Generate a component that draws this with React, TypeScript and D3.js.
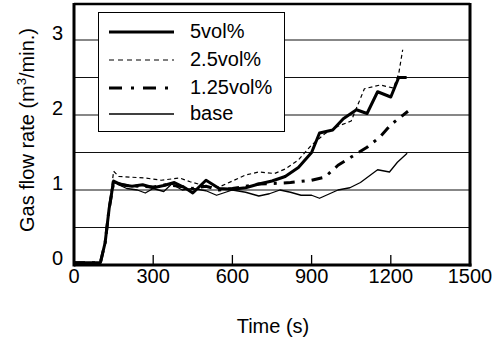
import React, { useEffect, useRef } from "react";
import * as d3 from "d3";

const X_TICKS = [0, 300, 600, 900, 1200, 1500];
const Y_TICKS = [0, 1, 2, 3];
const GRID_VALUES = [0.5, 1, 1.5, 2, 2.5, 3];

const T_5VOL = [0, 100, 118, 133, 150, 180, 220, 260, 300, 340, 380, 420, 450, 500, 550, 600, 650, 700, 750, 800, 850, 900, 930, 980, 1020, 1070, 1110, 1150, 1200, 1230, 1260];
const V_5VOL = [0.03, 0.03, 0.3, 0.75, 1.12, 1.07, 1.05, 1.07, 1.03, 1.06, 1.1, 1.03, 0.96, 1.13, 1.02, 1.01, 1.03, 1.08, 1.12, 1.18, 1.3, 1.5, 1.76, 1.8, 1.95, 2.07, 2.02, 2.31, 2.24, 2.5, 2.5];

const T_2_5VOL = [0, 100, 118, 133, 150, 170, 220, 270, 330, 400, 440, 500, 550, 600, 650, 700, 760, 800, 850, 900, 950, 1000, 1050, 1100, 1160, 1210, 1230, 1245];
const V_2_5VOL = [0.03, 0.03, 0.3, 0.75, 1.25, 1.18, 1.17, 1.16, 1.13, 1.16, 1.11, 1.05, 1.04, 1.12, 1.2, 1.24, 1.22, 1.28, 1.4, 1.6, 1.75, 1.85, 1.92, 2.35, 2.4, 2.36, 2.55, 2.87];

const T_1_25VOL = [0, 100, 118, 133, 150, 200, 250, 300, 350, 400, 450, 500, 550, 600, 650, 700, 770, 820, 900, 950, 1000, 1050, 1110, 1160, 1200, 1265];
const V_1_25VOL = [0.03, 0.03, 0.3, 0.75, 1.1, 1.06, 1.05, 1.04, 1.07, 1.05, 1.02, 1.05, 1.0, 1.02, 1.05, 1.08, 1.09, 1.1, 1.13, 1.17, 1.33, 1.44, 1.57, 1.71, 1.87, 2.05];

const T_BASE = [0, 100, 118, 133, 150, 200, 240, 270, 300, 340, 370, 410, 450, 500, 540, 600, 650, 700, 740, 780, 820, 860, 900, 930, 1000, 1045, 1085, 1150, 1195, 1225, 1262];
const V_BASE = [0.03, 0.03, 0.3, 0.75, 1.1, 1.02, 1.0, 0.96, 1.02, 0.98, 1.08, 1.0, 1.02, 0.99, 0.93, 1.0, 0.97, 0.92, 0.95, 1.0, 0.97, 0.93, 0.93, 0.89, 1.0, 1.03, 1.1, 1.27, 1.24, 1.37, 1.49];

const SERIES = [
    { name: "5vol%", t: T_5VOL, v: V_5VOL, width: 3, dash: null, legendDash: null },
    { name: "2.5vol%", t: T_2_5VOL, v: V_2_5VOL, width: 1.2, dash: "4,3", legendDash: "5,4" },
    { name: "1.25vol%", t: T_1_25VOL, v: V_1_25VOL, width: 3, dash: "11,7,3,7", legendDash: "13,9,3,9" },
    { name: "base", t: T_BASE, v: V_BASE, width: 1.3, dash: null, legendDash: null },
];

const FONT = "'Liberation Sans', Arial, sans-serif";

const App = () => {
    const ref = useRef<HTMLDivElement>(null);

    useEffect(() => {
        const left = 74, right = 470, top = 4, bottom = 265;

        const svg = d3
            .select(ref.current)
            .html("")
            .append("svg")
            .attr("width", 500)
            .attr("height", 341)
            .style("position", "absolute")
            .style("left", 0)
            .style("top", 0)
            .style("background", "white");

        const x = d3.scaleLinear().domain([0, 1500]).range([left, right]);
        const y = d3.scaleLinear().domain([0, 3.48]).range([bottom, top]);

        // gridlines
        svg.append("g")
            .selectAll("line")
            .data(GRID_VALUES)
            .join("line")
            .attr("x1", left)
            .attr("x2", right)
            .attr("y1", (d) => y(d))
            .attr("y2", (d) => y(d))
            .attr("stroke", "#111")
            .attr("stroke-width", 1.2);

        // x tick marks
        svg.append("g")
            .selectAll("line")
            .data(X_TICKS.slice(1, -1))
            .join("line")
            .attr("x1", (d) => x(d))
            .attr("x2", (d) => x(d))
            .attr("y1", bottom)
            .attr("y2", bottom - 10)
            .attr("stroke", "black")
            .attr("stroke-width", 1.3);

        // legend box (drawn under the curves)
        const legend = svg.append("g");
        legend.append("rect")
            .attr("x", 98.5)
            .attr("y", 12.5)
            .attr("width", 186)
            .attr("height", 119)
            .attr("fill", "white")
            .attr("stroke", "black")
            .attr("stroke-width", 1);

        const legendY = [32, 60, 88, 114];
        SERIES.forEach((s, i) => {
            legend.append("line")
                .attr("x1", 109)
                .attr("x2", 174)
                .attr("y1", legendY[i])
                .attr("y2", legendY[i])
                .attr("stroke", "black")
                .attr("stroke-width", s.width)
                .attr("stroke-dasharray", s.legendDash);
            legend.append("text")
                .attr("x", 190)
                .attr("y", legendY[i] + 6)
                .attr("font-family", FONT)
                .attr("font-size", 20)
                .attr("fill", "black")
                .text(s.name);
        });

        // curves
        const line = d3
            .line<[number, number]>()
            .x((d) => x(d[0]))
            .y((d) => y(d[1]));

        svg.append("g")
            .selectAll("path")
            .data(SERIES)
            .join("path")
            .attr("d", (s) => line(s.t.map((t, i) => [t, s.v[i]] as [number, number])))
            .attr("fill", "none")
            .attr("stroke", "black")
            .attr("stroke-width", (s) => s.width)
            .attr("stroke-dasharray", (s) => s.dash)
            .attr("stroke-linejoin", "round");

        // frame
        svg.append("line").attr("x1", left).attr("x2", right).attr("y1", top).attr("y2", top)
            .attr("stroke", "black").attr("stroke-width", 2.5);
        svg.append("line").attr("x1", left).attr("x2", right + 1.5).attr("y1", bottom).attr("y2", bottom)
            .attr("stroke", "black").attr("stroke-width", 3);
        svg.append("line").attr("x1", left).attr("x2", left).attr("y1", top - 1).attr("y2", bottom + 1.5)
            .attr("stroke", "black").attr("stroke-width", 3);
        svg.append("line").attr("x1", right).attr("x2", right).attr("y1", top - 1).attr("y2", bottom + 1.5)
            .attr("stroke", "black").attr("stroke-width", 3);

        // tick labels
        svg.append("g")
            .selectAll("text")
            .data(X_TICKS)
            .join("text")
            .attr("x", (d) => x(d))
            .attr("y", 283)
            .attr("text-anchor", "middle")
            .attr("font-family", FONT)
            .attr("font-size", 20)
            .text((d) => d);

        svg.append("g")
            .selectAll("text")
            .data(Y_TICKS)
            .join("text")
            .attr("x", 63)
            .attr("y", (d) => y(d))
            .attr("text-anchor", "end")
            .attr("font-family", FONT)
            .attr("font-size", 20)
            .text((d) => d);

        // axis titles
        svg.append("text")
            .attr("x", 273)
            .attr("y", 333)
            .attr("text-anchor", "middle")
            .attr("font-family", FONT)
            .attr("font-size", 20)
            .text("Time (s)");

        const yTitle = svg.append("text")
            .attr("transform", "translate(34,130) rotate(-90)")
            .attr("text-anchor", "middle")
            .attr("font-family", FONT)
            .attr("font-size", 20);
        yTitle.append("tspan").text("Gas flow rate (m");
        yTitle.append("tspan").attr("font-size", 13).attr("dy", -8).text("3");
        yTitle.append("tspan").attr("dy", 8).text("/min.)");
    }, []);

    return <div ref={ref} />;
};

export default App;
